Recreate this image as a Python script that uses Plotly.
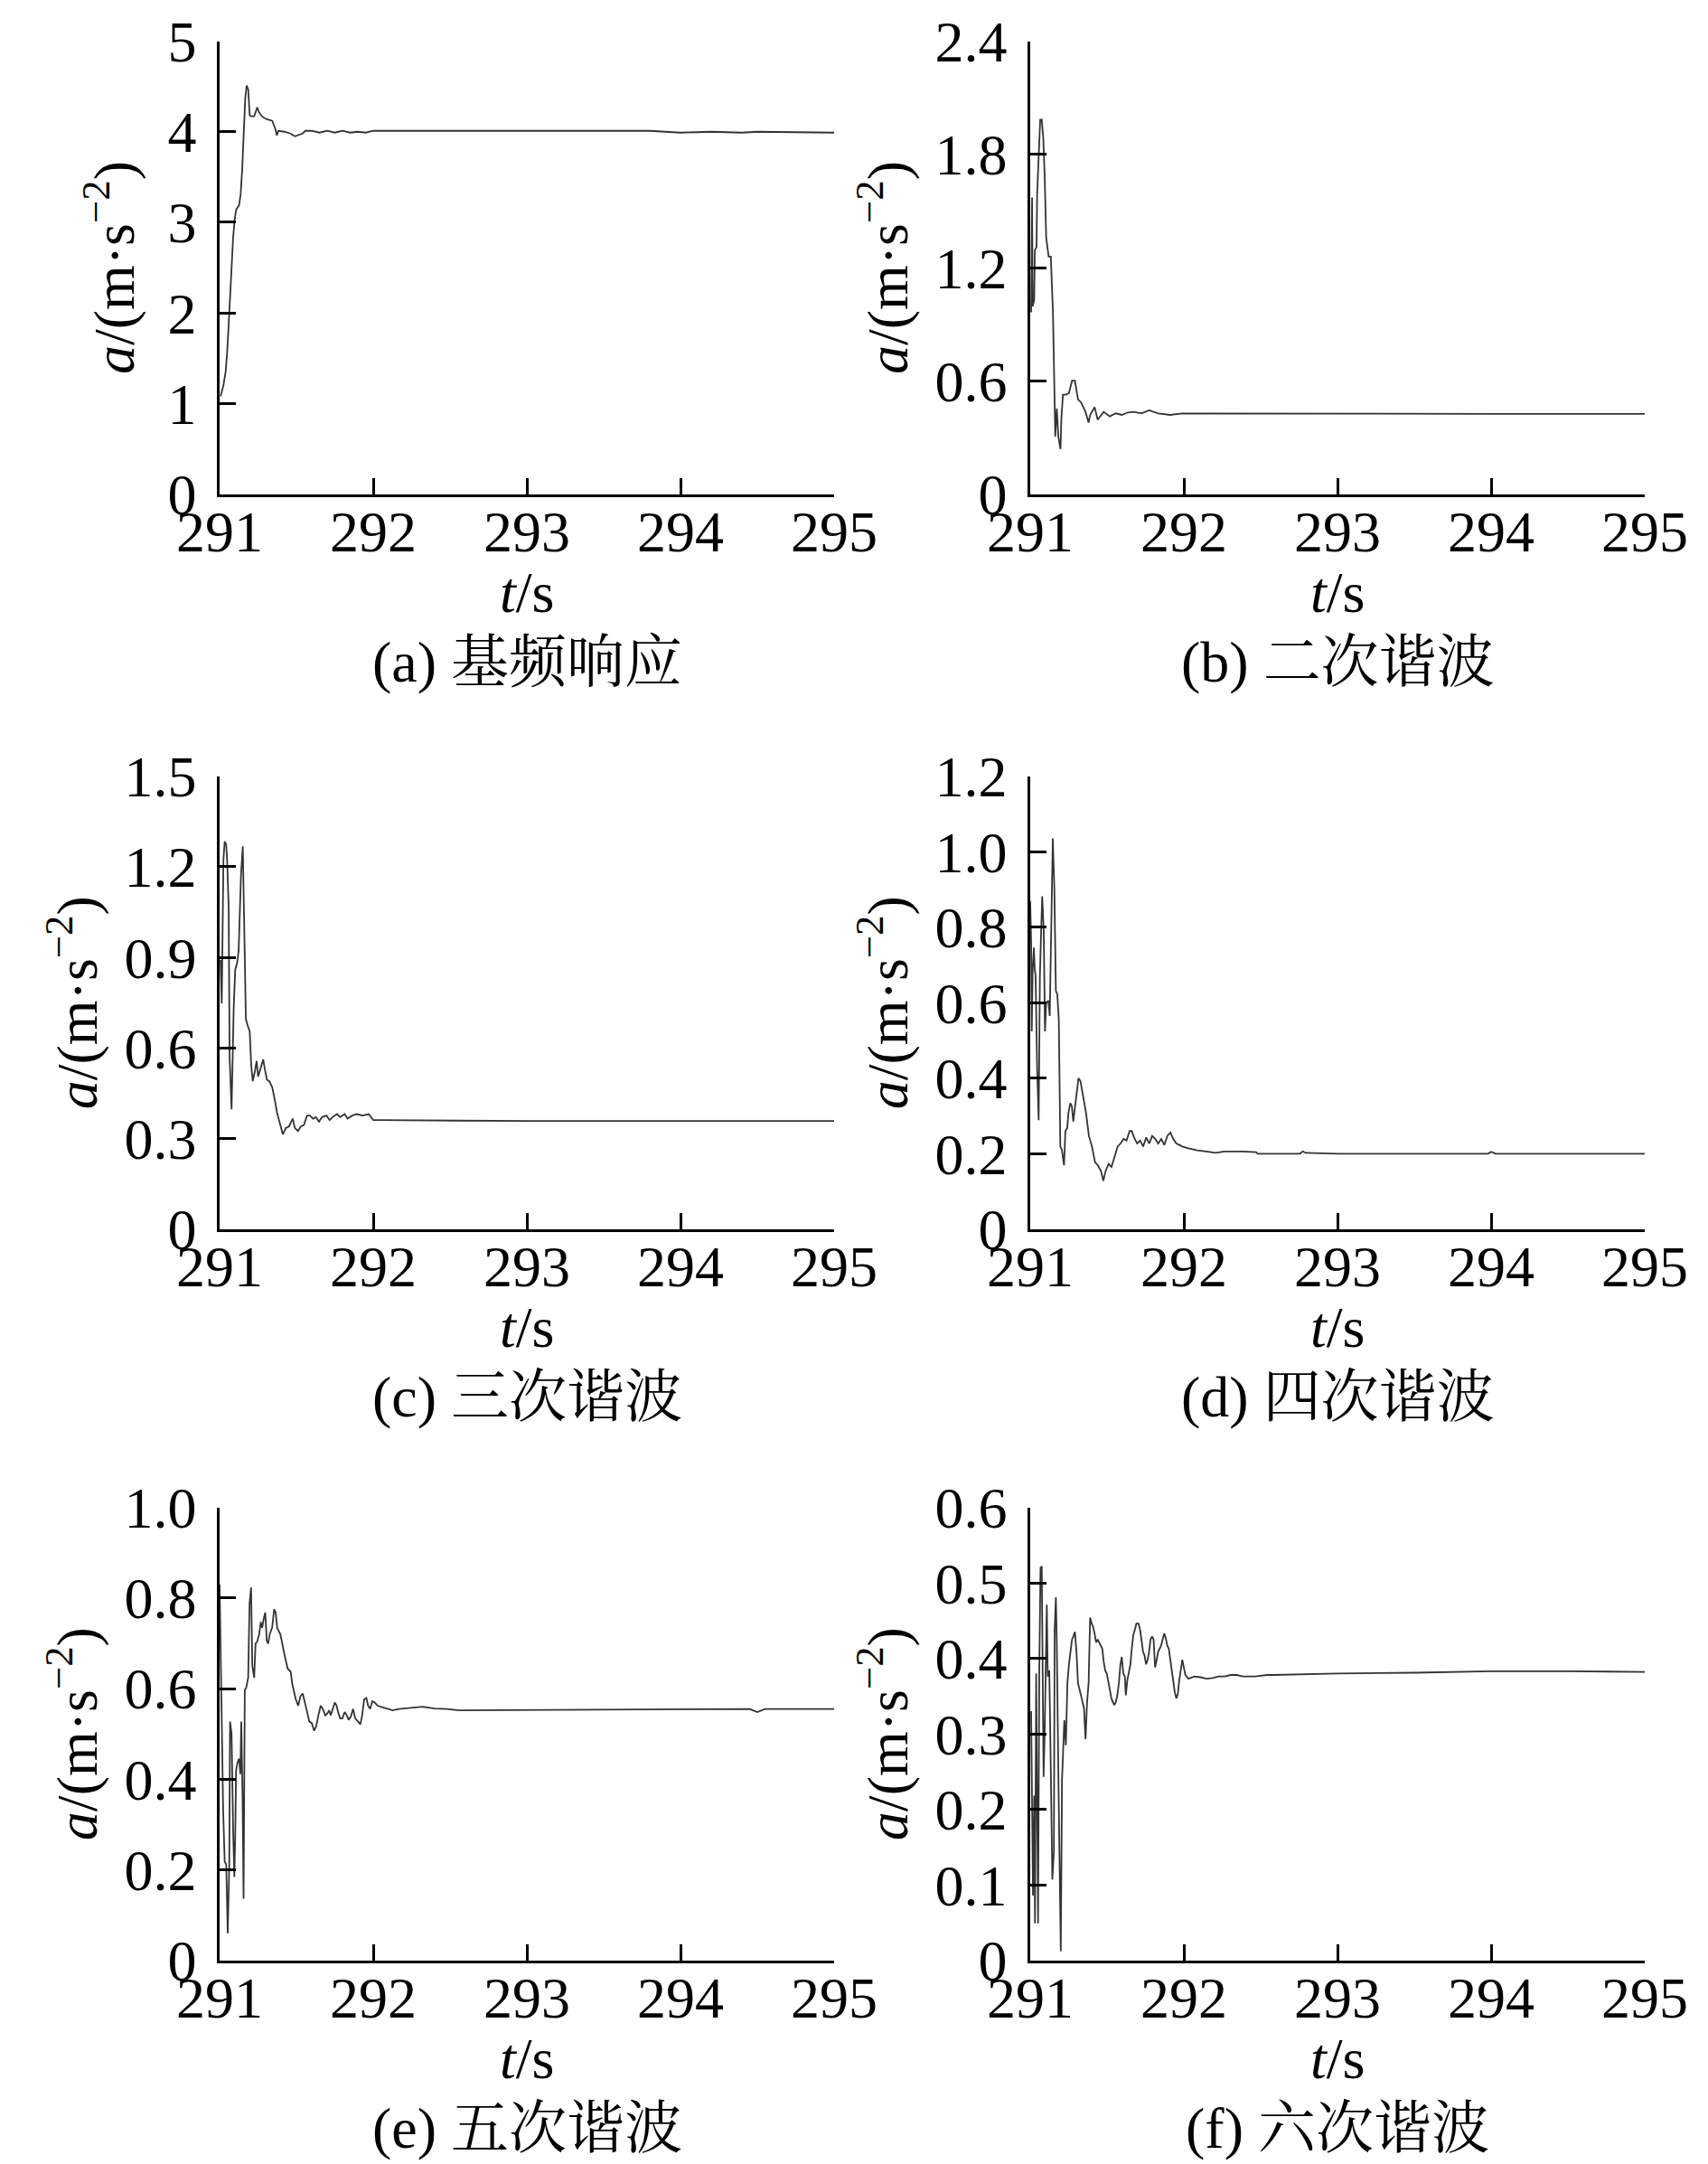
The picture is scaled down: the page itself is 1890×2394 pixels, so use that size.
import plotly.graph_objects as go

# ---------------- data ----------------
t_a = [291.006, 291.025, 291.039, 291.049, 291.059, 291.069, 291.078, 291.088, 291.098, 291.108,
       291.127, 291.137, 291.147, 291.157, 291.167, 291.176, 291.186, 291.196, 291.206, 291.225,
       291.235, 291.245, 291.255, 291.275, 291.304, 291.343, 291.363, 291.373, 291.382, 291.422,
       291.461, 291.490, 291.539, 291.559, 291.60, 291.65, 291.70, 291.75, 291.80, 291.85,
       291.90, 291.95, 292.0, 293.0, 293.8, 294.0, 294.2, 294.4, 294.5, 295.0]
v_a = [1.08, 1.20, 1.35, 1.56, 1.87, 2.21, 2.52, 2.83, 3.03, 3.14,
       3.19, 3.31, 3.58, 4.03, 4.37, 4.51, 4.47, 4.18, 4.17, 4.17,
       4.22, 4.27, 4.22, 4.17, 4.14, 4.12, 4.03, 3.96, 4.01, 4.00,
       3.98, 3.95, 3.98, 4.01, 4.01, 3.99, 4.01, 3.99, 4.01, 3.99,
       4.00, 3.99, 4.01, 4.01, 4.01, 3.99, 4.00, 3.99, 4.00, 3.99]

t_b = [291.006, 291.012, 291.016, 291.026, 291.030, 291.041, 291.045, 291.055, 291.065, 291.075,
       291.085, 291.094, 291.104, 291.120, 291.134, 291.148, 291.154, 291.163, 291.173, 291.183,
       291.197, 291.203, 291.213, 291.232, 291.252, 291.272, 291.291, 291.311, 291.331, 291.360,
       291.380, 291.390, 291.419, 291.439, 291.478, 291.518, 291.557, 291.596, 291.636, 291.675,
       291.724, 291.774, 291.833, 291.911, 291.990, 293.0, 294.0, 295.0]
v_b = [0.963, 1.572, 0.996, 1.029, 1.292, 1.309, 1.588, 1.786, 1.984, 1.984,
       1.885, 1.687, 1.358, 1.259, 1.259, 0.963, 0.617, 0.305, 0.453, 0.305,
       0.239, 0.403, 0.527, 0.527, 0.535, 0.601, 0.601, 0.502, 0.486, 0.436,
       0.379, 0.420, 0.461, 0.395, 0.436, 0.412, 0.428, 0.420, 0.433, 0.436,
       0.428, 0.444, 0.428, 0.420, 0.428, 0.425, 0.425, 0.425]

t_c = [291.006, 291.014, 291.025, 291.033, 291.043, 291.049, 291.059, 291.065, 291.078, 291.084,
       291.092, 291.102, 291.114, 291.124, 291.131, 291.139, 291.151, 291.161, 291.171, 291.182,
       291.196, 291.206, 291.216, 291.229, 291.241, 291.251, 291.265, 291.284, 291.294, 291.308,
       291.324, 291.343, 291.363, 291.373, 291.392, 291.412, 291.431, 291.451, 291.476, 291.490,
       291.510, 291.529, 291.549, 291.569, 291.588, 291.608, 291.627, 291.647, 291.667, 291.696,
       291.716, 291.735, 291.765, 291.784, 291.814, 291.833, 291.863, 291.892, 291.931, 291.971,
       292.000, 292.049, 293.0, 294.0, 295.0]
v_c = [0.892, 0.747, 1.222, 1.284, 1.273, 1.222, 1.067, 0.572, 0.397, 0.572,
       0.737, 0.861, 0.881, 0.923, 1.026, 1.170, 1.268, 0.954, 0.696, 0.675,
       0.655, 0.541, 0.490, 0.521, 0.557, 0.505, 0.531, 0.562, 0.531, 0.495,
       0.490, 0.469, 0.418, 0.387, 0.351, 0.314, 0.335, 0.340, 0.366, 0.335,
       0.325, 0.340, 0.345, 0.376, 0.376, 0.366, 0.371, 0.356, 0.371, 0.376,
       0.361, 0.371, 0.381, 0.371, 0.381, 0.366, 0.376, 0.381, 0.376, 0.381,
       0.361, 0.361, 0.358, 0.358, 0.358]

t_d = [291.000, 291.006, 291.010, 291.016, 291.024, 291.029, 291.035, 291.045, 291.055, 291.063,
       291.071, 291.078, 291.088, 291.096, 291.104, 291.118, 291.127, 291.137, 291.147, 291.157,
       291.167, 291.176, 291.186, 291.196, 291.206, 291.220, 291.229, 291.241, 291.249, 291.261,
       291.271, 291.280, 291.294, 291.314, 291.327, 291.343, 291.363, 291.382, 291.402, 291.422,
       291.441, 291.461, 291.476, 291.490, 291.510, 291.529, 291.549, 291.569, 291.588, 291.608,
       291.627, 291.647, 291.661, 291.676, 291.696, 291.716, 291.735, 291.755, 291.775, 291.794,
       291.814, 291.833, 291.853, 291.873, 291.892, 291.912, 291.931, 291.951, 291.971, 291.990,
       292.029, 292.088, 292.147, 292.206, 292.265, 292.382, 292.471, 292.480, 292.755, 292.775,
       292.794, 293.0, 293.98, 294.0, 294.03, 295.0]
v_d = [0.870, 0.763, 0.524, 0.689, 0.746, 0.689, 0.672, 0.425, 0.289, 0.672,
       0.788, 0.882, 0.788, 0.524, 0.598, 0.606, 0.565, 0.845, 1.035, 0.903,
       0.631, 0.623, 0.557, 0.219, 0.210, 0.169, 0.260, 0.268, 0.309, 0.334,
       0.326, 0.285, 0.334, 0.400, 0.392, 0.355, 0.309, 0.247, 0.219, 0.177,
       0.169, 0.153, 0.128, 0.153, 0.173, 0.165, 0.194, 0.219, 0.227, 0.239,
       0.235, 0.260, 0.260, 0.243, 0.227, 0.235, 0.219, 0.243, 0.227, 0.247,
       0.239, 0.227, 0.239, 0.223, 0.247, 0.256, 0.239, 0.227, 0.223, 0.219,
       0.214, 0.209, 0.206, 0.202, 0.206, 0.206, 0.204, 0.200, 0.200, 0.206,
       0.202, 0.200, 0.200, 0.205, 0.200, 0.200]

t_e = [291.000, 291.014, 291.023, 291.033, 291.043, 291.053, 291.063, 291.068, 291.078, 291.088,
       291.096, 291.102, 291.107, 291.117, 291.127, 291.135, 291.141, 291.150, 291.156, 291.164,
       291.174, 291.186, 291.195, 291.205, 291.213, 291.225, 291.234, 291.244, 291.258, 291.268,
       291.277, 291.287, 291.297, 291.307, 291.316, 291.326, 291.342, 291.355, 291.365, 291.375,
       291.385, 291.395, 291.404, 291.414, 291.424, 291.443, 291.463, 291.473, 291.482, 291.496,
       291.512, 291.525, 291.541, 291.557, 291.570, 291.584, 291.600, 291.615, 291.629, 291.643,
       291.658, 291.672, 291.688, 291.701, 291.713, 291.723, 291.736, 291.750, 291.762, 291.771,
       291.785, 291.799, 291.814, 291.828, 291.840, 291.854, 291.869, 291.883, 291.902, 291.916,
       291.928, 291.941, 291.955, 291.967, 291.980, 291.994, 292.010, 292.029, 292.068, 292.127,
       292.166, 292.244, 292.322, 292.400, 292.479, 292.557, 293.0, 294.0, 294.45, 294.5,
       294.55, 295.0]
v_e = [0.830, 0.476, 0.335, 0.218, 0.212, 0.060, 0.212, 0.527, 0.500, 0.287,
       0.184, 0.280, 0.418, 0.438, 0.445, 0.411, 0.527, 0.349, 0.136, 0.596,
       0.603, 0.624, 0.788, 0.823, 0.651, 0.624, 0.699, 0.703, 0.720, 0.747,
       0.734, 0.754, 0.768, 0.706, 0.699, 0.720, 0.734, 0.775, 0.768, 0.734,
       0.727, 0.720, 0.706, 0.692, 0.672, 0.644, 0.637, 0.610, 0.596, 0.576,
       0.562, 0.582, 0.589, 0.569, 0.548, 0.527, 0.524, 0.507, 0.517, 0.541,
       0.562, 0.555, 0.541, 0.545, 0.552, 0.541, 0.555, 0.569, 0.562, 0.548,
       0.534, 0.534, 0.548, 0.541, 0.531, 0.538, 0.555, 0.534, 0.527, 0.521,
       0.541, 0.576, 0.579, 0.562, 0.555, 0.572, 0.569, 0.562, 0.558, 0.552,
       0.555, 0.558, 0.560, 0.556, 0.555, 0.552, 0.553, 0.555, 0.555, 0.548,
       0.555, 0.555]

t_f = [291.006, 291.012, 291.018, 291.026, 291.031, 291.039, 291.045, 291.051, 291.059, 291.067,
       291.075, 291.081, 291.087, 291.094, 291.100, 291.108, 291.114, 291.124, 291.130, 291.138,
       291.144, 291.154, 291.159, 291.167, 291.173, 291.183, 291.193, 291.199, 291.207, 291.215,
       291.222, 291.232, 291.242, 291.252, 291.262, 291.272, 291.281, 291.291, 291.301, 291.311,
       291.321, 291.331, 291.341, 291.350, 291.360, 291.370, 291.380, 291.390, 291.400, 291.409,
       291.419, 291.429, 291.439, 291.449, 291.459, 291.469, 291.478, 291.488, 291.498, 291.508,
       291.518, 291.528, 291.537, 291.547, 291.557, 291.567, 291.577, 291.587, 291.596, 291.606,
       291.616, 291.622, 291.632, 291.640, 291.652, 291.661, 291.671, 291.681, 291.691, 291.705,
       291.715, 291.724, 291.734, 291.744, 291.754, 291.764, 291.774, 291.783, 291.793, 291.803,
       291.813, 291.823, 291.833, 291.843, 291.852, 291.862, 291.872, 291.882, 291.892, 291.902,
       291.911, 291.921, 291.931, 291.941, 291.951, 291.961, 291.970, 291.980, 291.990, 292.000,
       292.010, 292.030, 292.069, 292.108, 292.148, 292.187, 292.226, 292.266, 292.305, 292.344,
       292.384, 292.463, 292.541, 292.581, 293.0, 293.5, 294.0, 294.5, 295.0]
v_f = [0.330, 0.231, 0.086, 0.218, 0.049, 0.380, 0.235, 0.049, 0.384, 0.520,
       0.522, 0.376, 0.243, 0.301, 0.388, 0.471, 0.376, 0.384, 0.309, 0.210,
       0.107, 0.144, 0.438, 0.481, 0.421, 0.251, 0.107, 0.012, 0.239, 0.272,
       0.318, 0.285, 0.367, 0.392, 0.413, 0.425, 0.429, 0.435, 0.409, 0.367,
       0.359, 0.351, 0.342, 0.334, 0.293, 0.342, 0.367, 0.454, 0.446, 0.442,
       0.433, 0.421, 0.425, 0.421, 0.417, 0.413, 0.396, 0.384, 0.380, 0.371,
       0.359, 0.347, 0.342, 0.338, 0.342, 0.351, 0.367, 0.392, 0.402, 0.380,
       0.376, 0.351, 0.371, 0.380, 0.392, 0.413, 0.431, 0.438, 0.446, 0.446,
       0.438, 0.425, 0.409, 0.404, 0.392, 0.398, 0.409, 0.425, 0.429, 0.425,
       0.388, 0.398, 0.409, 0.413, 0.417, 0.425, 0.433, 0.427, 0.417, 0.413,
       0.400, 0.384, 0.367, 0.355, 0.347, 0.353, 0.371, 0.388, 0.398, 0.388,
       0.378, 0.373, 0.376, 0.375, 0.373, 0.374, 0.376, 0.376, 0.378, 0.378,
       0.376, 0.376, 0.378, 0.378, 0.380, 0.381, 0.383, 0.383, 0.382]

x_ticks = [291, 292, 293, 294, 295]
y_ticks_a = [0, 1, 2, 3, 4, 5]
y_ticks_b = [0, 0.6, 1.2, 1.8, 2.4]
y_ticks_c = [0, 0.3, 0.6, 0.9, 1.2, 1.5]
y_ticks_d = [0, 0.2, 0.4, 0.6, 0.8, 1.0, 1.2]
y_ticks_e = [0, 0.2, 0.4, 0.6, 0.8, 1.0]
y_ticks_f = [0, 0.1, 0.2, 0.3, 0.4, 0.5, 0.6]
y_text_a = ["0", "1", "2", "3", "4", "5"]
y_text_b = ["0", "0.6", "1.2", "1.8", "2.4"]
y_text_c = ["0", "0.3", "0.6", "0.9", "1.2", "1.5"]
y_text_d = ["0", "0.2", "0.4", "0.6", "0.8", "1.0", "1.2"]
y_text_e = ["0", "0.2", "0.4", "0.6", "0.8", "1.0"]
y_text_f = ["0", "0.1", "0.2", "0.3", "0.4", "0.5", "0.6"]
captions = ["(a) 基频响应", "(b) 二次谐波", "(c) 三次谐波", "(d) 四次谐波", "(e) 五次谐波", "(f) 六次谐波"]

# ---------------- layout geometry (pixels) ----------------
W, H = 1890, 2394
col_x = [(235, 915), (1132, 1812)]
row_y = [(37.5, 538.7), (850.7, 1351.8), (1659.6, 2160.7)]

SERIF = "Liberation Serif, Times New Roman, serif"
CAPFONT = "Liberation Serif, Noto Serif CJK SC, Noto Sans CJK SC, serif"
FS = 64
LINE_COLOR = "#333333"

series = [(t_a, v_a), (t_b, v_b), (t_c, v_c), (t_d, v_d), (t_e, v_e), (t_f, v_f)]
yticks = [y_ticks_a, y_ticks_b, y_ticks_c, y_ticks_d, y_ticks_e, y_ticks_f]
ytexts = [y_text_a, y_text_b, y_text_c, y_text_d, y_text_e, y_text_f]

fig = go.Figure()
annotations = []
layout_axes = {}

for i in range(6):
    r, c = divmod(i, 2)
    x0, x1 = col_x[c]
    y0, y1 = row_y[r]
    k = "" if i == 0 else str(i + 1)
    t, v = series[i]
    fig.add_trace(go.Scatter(x=t, y=v, mode="lines", xaxis="x" + k, yaxis="y" + k,
                             line=dict(color=LINE_COLOR, width=1.8), showlegend=False))
    layout_axes["xaxis" + k] = dict(
        domain=[x0 / W, x1 / W], anchor="y" + k, range=[291, 295],
        tickvals=x_ticks, ticktext=[str(x) for x in x_ticks],
        showline=True, linecolor="black", linewidth=2.5, mirror=False,
        ticks="inside", ticklen=18, tickwidth=2.5, tickcolor="black",
        showgrid=False, zeroline=False, ticklabelstandoff=-16, automargin=False,
        tickfont=dict(family=SERIF, size=FS, color="black"), fixedrange=True)
    yr = yticks[i]
    layout_axes["yaxis" + k] = dict(
        domain=[1 - y1 / H, 1 - y0 / H], anchor="x" + k, range=[yr[0], yr[-1]],
        tickvals=yr, ticktext=ytexts[i],
        showline=True, linecolor="black", linewidth=2.5, mirror=False,
        ticks="inside", ticklen=18, tickwidth=2.5, tickcolor="black",
        showgrid=False, zeroline=False, ticklabelstandoff=10,
        automargin=False,
        tickfont=dict(family=SERIF, size=FS, color="black"), fixedrange=True)

    cx = (x0 + x1) / 2
    # x-axis title
    annotations.append(dict(text="<i>t</i>/s", x=cx / W, y=1 - (y1 + 108.5) / H,
                            xref="paper", yref="paper", xanchor="center", yanchor="middle",
                            showarrow=False, font=dict(family=SERIF, size=FS, color="black")))
    # caption
    annotations.append(dict(text=captions[i], x=cx / W, y=1 - (y1 + 185.5) / H,
                            xref="paper", yref="paper", xanchor="center", yanchor="middle",
                            showarrow=False, font=dict(family=CAPFONT, size=FS, color="black")))
    # y-axis title
    off = 122 if i == 0 else 163
    annotations.append(dict(text="<i>a</i>/(m·s<sup>−2</sup>)", x=(x0 - off) / W,
                            y=1 - ((y0 + y1) / 2) / H, xref="paper", yref="paper",
                            xanchor="center", yanchor="middle", textangle=-90,
                            showarrow=False, font=dict(family=SERIF, size=FS, color="black")))

fig.update_layout(width=W, height=H, autosize=False,
                  margin=dict(l=0, r=0, t=0, b=0, pad=0, autoexpand=False),
                  paper_bgcolor="white", plot_bgcolor="white",
                  annotations=annotations, **layout_axes)

fig.write_html("out.html")
